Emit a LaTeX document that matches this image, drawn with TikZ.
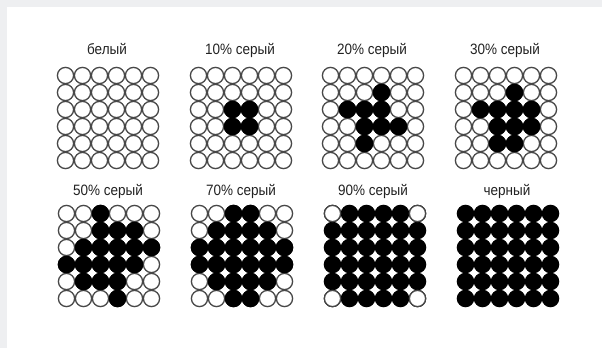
\documentclass[tikz,border=0pt]{standalone}
\usepackage{fontspec}
\setmainfont{Liberation Sans}[FakeStretch=0.9]
\definecolor{pagegray}{HTML}{EEEFF1}
\definecolor{ringgray}{HTML}{484848}
\definecolor{inktext}{HTML}{222222}
% one 6x6 field of rings, cell (row/col) counted from top left
\newcommand{\ringfield}{%
  \foreach \r in {1,...,6}
    \foreach \c in {1,...,6}
      \draw[ring] ({17*\c-8.5},{17*\r-8.5}) circle (8.1);}
\newcommand{\blackdots}[1]{%
  \foreach \r/\c in {#1}
    \draw[dot] ({17*\c-8.5},{17*\r-8.5}) circle (8.1);}
\newcommand{\whiterings}[1]{%
  \foreach \r/\c in {#1}
    \draw[ring] ({17*\c-8.5},{17*\r-8.5}) circle (8.1);}

\begin{document}
\begin{tikzpicture}[x=1pt,y=-1pt,
  lbl/.style={font=\fontsize{15}{18}\selectfont,text=inktext,inner sep=0pt,anchor=base},
  ring/.style={draw=ringgray,fill=white,line width=1.3pt},
  dot/.style={draw=black,fill=black,line width=1.3pt}]
  \useasboundingbox (0,0) rectangle (602,348);
  \fill[pagegray] (0,0) rectangle (602,348);
  \fill[white] (7,7) rectangle (602,348);

  % labels
  \node[lbl] (lwhite) at (107,54) {белый};
  \node[lbl] (l10) at (240,54) {10\% серый};
  \node[lbl] (l20) at (372,54) {20\% серый};
  \node[lbl] (l30) at (505,54) {30\% серый};
  \node[lbl] (l50) at (108,195) {50\% серый};
  \node[lbl] (l70) at (241,195) {70\% серый};
  \node[lbl] (l90) at (373,195) {90\% серый};
  \node[lbl] (lblack) at (507,195) {черный};

  % top row
  \begin{scope}[shift={(57,67)}]
    \ringfield
  \end{scope}
  \begin{scope}[shift={(190,67)}]
    \ringfield
    \blackdots{3/3,3/4,4/3,4/4}
  \end{scope}
  \begin{scope}[shift={(322,67)}]
    \ringfield
    \blackdots{2/4,3/2,3/3,3/4,4/3,4/4,4/5,5/3}
  \end{scope}
  \begin{scope}[shift={(455,67)}]
    \ringfield
    \blackdots{2/4,3/2,3/3,3/4,3/5,4/3,4/4,4/5,5/3,5/4}
  \end{scope}

  % bottom row
  \begin{scope}[shift={(58,205)}]
    \ringfield
    \blackdots{1/3,2/3,2/4,2/5,3/2,3/3,3/4,3/5,3/6,
          4/1,4/2,4/3,4/4,4/5,5/2,5/3,5/4,6/4}
  \end{scope}
  \begin{scope}[shift={(191,205)}]
    \ringfield
    \blackdots{1/3,1/4,2/2,2/3,2/4,2/5,3/1,3/2,3/3,3/4,3/5,3/6,
          4/1,4/2,4/3,4/4,4/5,4/6,5/2,5/3,5/4,5/5,6/3,6/4}
  \end{scope}
  \begin{scope}[shift={(324,205)}]
    \foreach \r in {1,...,6}
      \foreach \c in {1,...,6}
        \draw[dot] ({17*\c-8.5},{17*\r-8.5}) circle (8.1);
    \whiterings{1/1,1/6,6/1,6/6}
  \end{scope}
  \begin{scope}[shift={(457,205)}]
    \foreach \r in {1,...,6}
      \foreach \c in {1,...,6}
        \draw[dot] ({17*\c-8.5},{17*\r-8.5}) circle (8.1);
  \end{scope}
\end{tikzpicture}
\end{document}
